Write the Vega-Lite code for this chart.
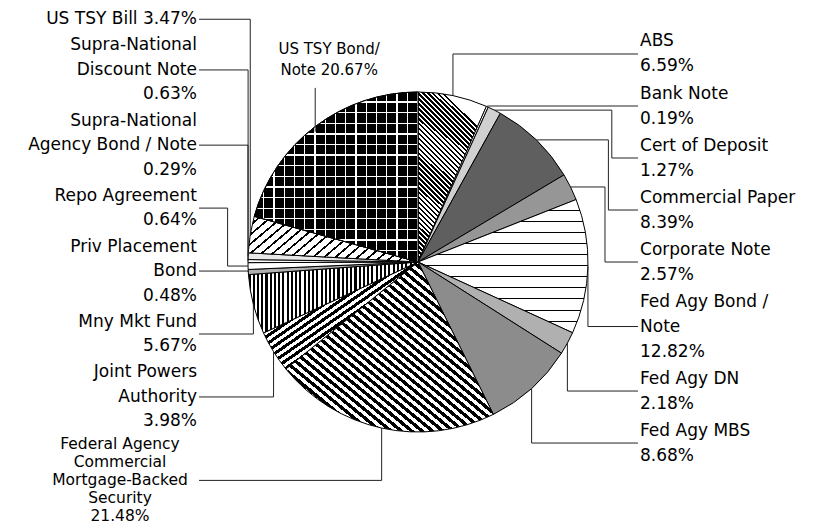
{
  "$schema": "https://vega.github.io/schema/vega-lite/v6.json",
  "width": 814,
  "height": 524,
  "autosize": "none",
  "padding": {"left": 11, "top": 0, "right": 0, "bottom": 3},
  "background": "#ffffff",
  "config": {"view": {"stroke": null}},
  "params": [
    {"name": "s40", "value": {"gradient": "linear", "stops": [
      {"offset":0,"color":"#000"},{"offset":0.0125,"color":"#000"},{"offset":0.0125,"color":"#fff"},{"offset":0.025,"color":"#fff"},
      {"offset":0.025,"color":"#000"},{"offset":0.0375,"color":"#000"},{"offset":0.0375,"color":"#fff"},{"offset":0.05,"color":"#fff"},
      {"offset":0.05,"color":"#000"},{"offset":0.0625,"color":"#000"},{"offset":0.0625,"color":"#fff"},{"offset":0.075,"color":"#fff"},
      {"offset":0.075,"color":"#000"},{"offset":0.0875,"color":"#000"},{"offset":0.0875,"color":"#fff"},{"offset":0.1,"color":"#fff"},
      {"offset":0.1,"color":"#000"},{"offset":0.1125,"color":"#000"},{"offset":0.1125,"color":"#fff"},{"offset":0.125,"color":"#fff"},
      {"offset":0.125,"color":"#000"},{"offset":0.1375,"color":"#000"},{"offset":0.1375,"color":"#fff"},{"offset":0.15,"color":"#fff"},
      {"offset":0.15,"color":"#000"},{"offset":0.1625,"color":"#000"},{"offset":0.1625,"color":"#fff"},{"offset":0.175,"color":"#fff"},
      {"offset":0.175,"color":"#000"},{"offset":0.1875,"color":"#000"},{"offset":0.1875,"color":"#fff"},{"offset":0.2,"color":"#fff"},
      {"offset":0.2,"color":"#000"},{"offset":0.2125,"color":"#000"},{"offset":0.2125,"color":"#fff"},{"offset":0.225,"color":"#fff"},
      {"offset":0.225,"color":"#000"},{"offset":0.2375,"color":"#000"},{"offset":0.2375,"color":"#fff"},{"offset":0.25,"color":"#fff"},
      {"offset":0.25,"color":"#000"},{"offset":0.2625,"color":"#000"},{"offset":0.2625,"color":"#fff"},{"offset":0.275,"color":"#fff"},
      {"offset":0.275,"color":"#000"},{"offset":0.2875,"color":"#000"},{"offset":0.2875,"color":"#fff"},{"offset":0.3,"color":"#fff"},
      {"offset":0.3,"color":"#000"},{"offset":0.3125,"color":"#000"},{"offset":0.3125,"color":"#fff"},{"offset":0.325,"color":"#fff"},
      {"offset":0.325,"color":"#000"},{"offset":0.3375,"color":"#000"},{"offset":0.3375,"color":"#fff"},{"offset":0.35,"color":"#fff"},
      {"offset":0.35,"color":"#000"},{"offset":0.3625,"color":"#000"},{"offset":0.3625,"color":"#fff"},{"offset":0.375,"color":"#fff"},
      {"offset":0.375,"color":"#000"},{"offset":0.3875,"color":"#000"},{"offset":0.3875,"color":"#fff"},{"offset":0.4,"color":"#fff"},
      {"offset":0.4,"color":"#000"},{"offset":0.4125,"color":"#000"},{"offset":0.4125,"color":"#fff"},{"offset":0.425,"color":"#fff"},
      {"offset":0.425,"color":"#000"},{"offset":0.4375,"color":"#000"},{"offset":0.4375,"color":"#fff"},{"offset":0.45,"color":"#fff"},
      {"offset":0.45,"color":"#000"},{"offset":0.4625,"color":"#000"},{"offset":0.4625,"color":"#fff"},{"offset":0.475,"color":"#fff"},
      {"offset":0.475,"color":"#000"},{"offset":0.4875,"color":"#000"},{"offset":0.4875,"color":"#fff"},{"offset":0.5,"color":"#fff"},
      {"offset":0.5,"color":"#000"},{"offset":0.5125,"color":"#000"},{"offset":0.5125,"color":"#fff"},{"offset":0.525,"color":"#fff"},
      {"offset":0.525,"color":"#000"},{"offset":0.5375,"color":"#000"},{"offset":0.5375,"color":"#fff"},{"offset":0.55,"color":"#fff"},
      {"offset":0.55,"color":"#000"},{"offset":0.5625,"color":"#000"},{"offset":0.5625,"color":"#fff"},{"offset":0.575,"color":"#fff"},
      {"offset":0.575,"color":"#000"},{"offset":0.5875,"color":"#000"},{"offset":0.5875,"color":"#fff"},{"offset":0.6,"color":"#fff"},
      {"offset":0.6,"color":"#000"},{"offset":0.6125,"color":"#000"},{"offset":0.6125,"color":"#fff"},{"offset":0.625,"color":"#fff"},
      {"offset":0.625,"color":"#000"},{"offset":0.6375,"color":"#000"},{"offset":0.6375,"color":"#fff"},{"offset":0.65,"color":"#fff"},
      {"offset":0.65,"color":"#000"},{"offset":0.6625,"color":"#000"},{"offset":0.6625,"color":"#fff"},{"offset":0.675,"color":"#fff"},
      {"offset":0.675,"color":"#000"},{"offset":0.6875,"color":"#000"},{"offset":0.6875,"color":"#fff"},{"offset":0.7,"color":"#fff"},
      {"offset":0.7,"color":"#000"},{"offset":0.7125,"color":"#000"},{"offset":0.7125,"color":"#fff"},{"offset":0.725,"color":"#fff"},
      {"offset":0.725,"color":"#000"},{"offset":0.7375,"color":"#000"},{"offset":0.7375,"color":"#fff"},{"offset":0.75,"color":"#fff"},
      {"offset":0.75,"color":"#000"},{"offset":0.7625,"color":"#000"},{"offset":0.7625,"color":"#fff"},{"offset":0.775,"color":"#fff"},
      {"offset":0.775,"color":"#000"},{"offset":0.7875,"color":"#000"},{"offset":0.7875,"color":"#fff"},{"offset":0.8,"color":"#fff"},
      {"offset":0.8,"color":"#000"},{"offset":0.8125,"color":"#000"},{"offset":0.8125,"color":"#fff"},{"offset":0.825,"color":"#fff"},
      {"offset":0.825,"color":"#000"},{"offset":0.8375,"color":"#000"},{"offset":0.8375,"color":"#fff"},{"offset":0.85,"color":"#fff"},
      {"offset":0.85,"color":"#000"},{"offset":0.8625,"color":"#000"},{"offset":0.8625,"color":"#fff"},{"offset":0.875,"color":"#fff"},
      {"offset":0.875,"color":"#000"},{"offset":0.8875,"color":"#000"},{"offset":0.8875,"color":"#fff"},{"offset":0.9,"color":"#fff"},
      {"offset":0.9,"color":"#000"},{"offset":0.9125,"color":"#000"},{"offset":0.9125,"color":"#fff"},{"offset":0.925,"color":"#fff"},
      {"offset":0.925,"color":"#000"},{"offset":0.9375,"color":"#000"},{"offset":0.9375,"color":"#fff"},{"offset":0.95,"color":"#fff"},
      {"offset":0.95,"color":"#000"},{"offset":0.9625,"color":"#000"},{"offset":0.9625,"color":"#fff"},{"offset":0.975,"color":"#fff"},
      {"offset":0.975,"color":"#000"},{"offset":0.9875,"color":"#000"},{"offset":0.9875,"color":"#fff"},{"offset":1,"color":"#fff"}
    ]}}
  ],
  "data": {
    "values": [
      {"cat": "ABS", "label": "ABS\n6.59%", "pct": 6.59},
      {"cat": "Bank Note", "label": "Bank Note\n0.19%", "pct": 0.19},
      {"cat": "Cert of Deposit", "label": "Cert of Deposit\n1.27%", "pct": 1.27},
      {"cat": "Commercial Paper", "label": "Commercial Paper\n8.39%", "pct": 8.39},
      {"cat": "Corporate Note", "label": "Corporate Note\n2.57%", "pct": 2.57},
      {"cat": "Fed Agy Bond / Note", "label": "Fed Agy Bond /\nNote\n12.82%", "pct": 12.82},
      {"cat": "Fed Agy DN", "label": "Fed Agy DN\n2.18%", "pct": 2.18},
      {"cat": "Fed Agy MBS", "label": "Fed Agy MBS\n8.68%", "pct": 8.68},
      {"cat": "Federal Agency Commercial Mortgage-Backed Security", "label": "Federal Agency\nCommercial\nMortgage-Backed\nSecurity\n21.48%", "pct": 21.48},
      {"cat": "Joint Powers Authority", "label": "Joint Powers\nAuthority\n3.98%", "pct": 3.98},
      {"cat": "Mny Mkt Fund", "label": "Mny Mkt Fund\n5.67%", "pct": 5.67},
      {"cat": "Priv Placement Bond", "label": "Priv Placement\nBond\n0.48%", "pct": 0.48},
      {"cat": "Repo Agreement", "label": "Repo Agreement\n0.64%", "pct": 0.64},
      {"cat": "Supra-National Agency Bond / Note", "label": "Supra-National\nAgency Bond / Note\n0.29%", "pct": 0.29},
      {"cat": "Supra-National Discount Note", "label": "Supra-National\nDiscount Note\n0.63%", "pct": 0.63},
      {"cat": "US TSY Bill", "label": "US TSY Bill 3.47%", "pct": 3.47},
      {"cat": "US TSY Bond/Note", "label": "US TSY Bond/\nNote 20.67%", "pct": 20.67}
    ]
  },
  "transform": [
    {"window": [{"op": "row_number", "as": "ord"}]},
    {"window": [{"op": "sum", "field": "pct", "as": "t1"}], "sort": [{"field": "ord"}], "frame": [null, 0]},
    {"calculate": "datum.t1 - datum.pct", "as": "t0"},
    {"calculate": "(datum.t0 + datum.t1) * PI / 100", "as": "mid"},
    {"calculate": "sin(datum.mid)", "as": "ex"},
    {"calculate": "-cos(datum.mid)", "as": "ey"},
    {"calculate": "datum.mid > 5.3 ? 'top' : (datum.mid < PI ? 'right' : 'left')", "as": "side"},
    {"calculate": "length(split(datum.label, '\\n'))", "as": "nl"},
    {"calculate": "datum.side === 'top' ? 0.12353 : (datum.nl >= 5 ? 0.10588 : (datum.side === 'left' ? 0.14412 : 0.14706))", "as": "lh"},
    {"calculate": "datum.nl * datum.lh", "as": "h"},
    {"calculate": "datum.side === 'left' ? -datum.mid : datum.mid", "as": "sk"},
    {"window": [{"op": "row_number", "as": "rk"}, {"op": "sum", "field": "h", "as": "ch"}], "groupby": ["side"], "sort": [{"field": "sk"}], "frame": [null, 0]},
    {"calculate": "datum.side === 'top' ? -1.194 : (datum.side === 'left' ? -1.5 + 0.01 * (datum.rk - 1) : -1.3706 + 0.0118 * (datum.rk - 1)) + datum.ch - datum.h / 2", "as": "ty"},
    {"calculate": "datum.ty - (datum.nl - 1) * datum.lh / 2", "as": "tyt"},
    {"calculate": "datum.side === 'top' ? -1.024 : datum.ty", "as": "lly"},
    {"calculate": "datum.side === 'top' ? datum.ey + 0.03 : datum.ey", "as": "vy0"},
    {"calculate": "(datum.side === 'top' || (datum.ty * datum.ey > 0 && abs(datum.ty) >= abs(datum.ey) - 0.03)) ? datum.ex : (datum.side === 'right' ? 1 : -1) * (1.18 - 0.02 * (datum.rk - 1))", "as": "elx"},
    {"calculate": "datum.side === 'right' ? 1.294 : (datum.side === 'left' ? -1.288 : datum.ex)", "as": "lxe"},
    {"calculate": "datum.side === 'right' ? 1.306 : (datum.side === 'left' ? (datum.nl >= 5 ? -1.753 : -1.3) : datum.ex + 0.082)", "as": "tx"}
  ],
  "layer": [
    {
      "mark": {"type": "arc", "outerRadius": 170, "stroke": "#000000", "strokeWidth": 1},
      "encoding": {
        "theta": {"field": "t0", "type": "quantitative", "scale": {"domain": [0, 100], "range": [0, 6.283185307179586]}},
        "theta2": {"field": "t1"},
        "fill": {
          "condition": [
            {"test": "datum.cat === 'Federal Agency Commercial Mortgage-Backed Security'", "value": {"expr": "merge(s40, {x1: 0, y1: 1, x2: 1, y2: 0})"}},
            {"test": "datum.cat === 'ABS'", "value": {"expr": "merge(s40, {x1: 0, y1: 1, x2: 0.4, y2: 0})"}},
            {"test": "datum.cat === 'Mny Mkt Fund'", "value": {"expr": "merge(s40, {x1: 0, y1: 0, x2: 1, y2: 0})"}},
            {"test": "datum.cat === 'Joint Powers Authority'", "value": {"expr": "merge(s40, {x1: 0, y1: 0, x2: 1.4, y2: 1.4})"}},
            {"test": "datum.cat === 'US TSY Bill'", "value": {"gradient": "linear", "x1": 0, "y1": 0, "x2": 1.197, "y2": 0.383, "stops": [
              {"offset":0,"color":"#000"},{"offset":0.012,"color":"#000"},{"offset":0.012,"color":"#fff"},{"offset":0.05,"color":"#fff"},
              {"offset":0.05,"color":"#000"},{"offset":0.062,"color":"#000"},{"offset":0.062,"color":"#fff"},{"offset":0.1,"color":"#fff"},
              {"offset":0.1,"color":"#000"},{"offset":0.112,"color":"#000"},{"offset":0.112,"color":"#fff"},{"offset":0.15,"color":"#fff"},
              {"offset":0.15,"color":"#000"},{"offset":0.162,"color":"#000"},{"offset":0.162,"color":"#fff"},{"offset":0.2,"color":"#fff"},
              {"offset":0.2,"color":"#000"},{"offset":0.212,"color":"#000"},{"offset":0.212,"color":"#fff"},{"offset":0.25,"color":"#fff"},
              {"offset":0.25,"color":"#000"},{"offset":0.262,"color":"#000"},{"offset":0.262,"color":"#fff"},{"offset":0.3,"color":"#fff"},
              {"offset":0.3,"color":"#000"},{"offset":0.312,"color":"#000"},{"offset":0.312,"color":"#fff"},{"offset":0.35,"color":"#fff"},
              {"offset":0.35,"color":"#000"},{"offset":0.362,"color":"#000"},{"offset":0.362,"color":"#fff"},{"offset":0.4,"color":"#fff"},
              {"offset":0.4,"color":"#000"},{"offset":0.412,"color":"#000"},{"offset":0.412,"color":"#fff"},{"offset":0.45,"color":"#fff"},
              {"offset":0.45,"color":"#000"},{"offset":0.462,"color":"#000"},{"offset":0.462,"color":"#fff"},{"offset":0.5,"color":"#fff"},
              {"offset":0.5,"color":"#000"},{"offset":0.512,"color":"#000"},{"offset":0.512,"color":"#fff"},{"offset":0.55,"color":"#fff"},
              {"offset":0.55,"color":"#000"},{"offset":0.562,"color":"#000"},{"offset":0.562,"color":"#fff"},{"offset":0.6,"color":"#fff"},
              {"offset":0.6,"color":"#000"},{"offset":0.612,"color":"#000"},{"offset":0.612,"color":"#fff"},{"offset":0.65,"color":"#fff"},
              {"offset":0.65,"color":"#000"},{"offset":0.662,"color":"#000"},{"offset":0.662,"color":"#fff"},{"offset":0.7,"color":"#fff"},
              {"offset":0.7,"color":"#000"},{"offset":0.712,"color":"#000"},{"offset":0.712,"color":"#fff"},{"offset":0.75,"color":"#fff"},
              {"offset":0.75,"color":"#000"},{"offset":0.762,"color":"#000"},{"offset":0.762,"color":"#fff"},{"offset":0.8,"color":"#fff"},
              {"offset":0.8,"color":"#000"},{"offset":0.812,"color":"#000"},{"offset":0.812,"color":"#fff"},{"offset":0.85,"color":"#fff"},
              {"offset":0.85,"color":"#000"},{"offset":0.862,"color":"#000"},{"offset":0.862,"color":"#fff"},{"offset":0.9,"color":"#fff"},
              {"offset":0.9,"color":"#000"},{"offset":0.912,"color":"#000"},{"offset":0.912,"color":"#fff"},{"offset":0.95,"color":"#fff"},
              {"offset":0.95,"color":"#000"},{"offset":0.962,"color":"#000"},{"offset":0.962,"color":"#fff"},{"offset":1,"color":"#fff"}
            ]}},
            {"test": "datum.cat === 'US TSY Bond/Note'", "value": {"gradient": "linear", "x1": 0, "y1": 0, "x2": 0, "y2": 1, "stops": [
              {"offset":0,"color":"#000"},{"offset":0.055,"color":"#000"},{"offset":0.055,"color":"#fff"},{"offset":0.0625,"color":"#fff"},
              {"offset":0.0625,"color":"#000"},{"offset":0.1175,"color":"#000"},{"offset":0.1175,"color":"#fff"},{"offset":0.125,"color":"#fff"},
              {"offset":0.125,"color":"#000"},{"offset":0.18,"color":"#000"},{"offset":0.18,"color":"#fff"},{"offset":0.1875,"color":"#fff"},
              {"offset":0.1875,"color":"#000"},{"offset":0.2425,"color":"#000"},{"offset":0.2425,"color":"#fff"},{"offset":0.25,"color":"#fff"},
              {"offset":0.25,"color":"#000"},{"offset":0.305,"color":"#000"},{"offset":0.305,"color":"#fff"},{"offset":0.3125,"color":"#fff"},
              {"offset":0.3125,"color":"#000"},{"offset":0.3675,"color":"#000"},{"offset":0.3675,"color":"#fff"},{"offset":0.375,"color":"#fff"},
              {"offset":0.375,"color":"#000"},{"offset":0.43,"color":"#000"},{"offset":0.43,"color":"#fff"},{"offset":0.4375,"color":"#fff"},
              {"offset":0.4375,"color":"#000"},{"offset":0.4925,"color":"#000"},{"offset":0.4925,"color":"#fff"},{"offset":0.5,"color":"#fff"},
              {"offset":0.5,"color":"#000"},{"offset":0.555,"color":"#000"},{"offset":0.555,"color":"#fff"},{"offset":0.5625,"color":"#fff"},
              {"offset":0.5625,"color":"#000"},{"offset":0.6175,"color":"#000"},{"offset":0.6175,"color":"#fff"},{"offset":0.625,"color":"#fff"},
              {"offset":0.625,"color":"#000"},{"offset":0.68,"color":"#000"},{"offset":0.68,"color":"#fff"},{"offset":0.6875,"color":"#fff"},
              {"offset":0.6875,"color":"#000"},{"offset":0.7425,"color":"#000"},{"offset":0.7425,"color":"#fff"},{"offset":0.75,"color":"#fff"},
              {"offset":0.75,"color":"#000"},{"offset":0.805,"color":"#000"},{"offset":0.805,"color":"#fff"},{"offset":0.8125,"color":"#fff"},
              {"offset":0.8125,"color":"#000"},{"offset":0.8675,"color":"#000"},{"offset":0.8675,"color":"#fff"},{"offset":0.875,"color":"#fff"},
              {"offset":0.875,"color":"#000"},{"offset":0.93,"color":"#000"},{"offset":0.93,"color":"#fff"},{"offset":0.9375,"color":"#fff"},
              {"offset":0.9375,"color":"#000"},{"offset":0.9925,"color":"#000"},{"offset":0.9925,"color":"#fff"},{"offset":1,"color":"#fff"}
            ]}},
            {"test": "datum.cat === 'Fed Agy Bond / Note'", "value": {"gradient": "linear", "x1": 0, "y1": 0, "x2": 0, "y2": 1, "stops": [
              {"offset":0,"color":"#fff"},{"offset":0.0758,"color":"#fff"},{"offset":0.0758,"color":"#000"},{"offset":0.0833,"color":"#000"},
              {"offset":0.0833,"color":"#fff"},{"offset":0.1592,"color":"#fff"},{"offset":0.1592,"color":"#000"},{"offset":0.1667,"color":"#000"},
              {"offset":0.1667,"color":"#fff"},{"offset":0.2425,"color":"#fff"},{"offset":0.2425,"color":"#000"},{"offset":0.25,"color":"#000"},
              {"offset":0.25,"color":"#fff"},{"offset":0.3258,"color":"#fff"},{"offset":0.3258,"color":"#000"},{"offset":0.3333,"color":"#000"},
              {"offset":0.3333,"color":"#fff"},{"offset":0.4092,"color":"#fff"},{"offset":0.4092,"color":"#000"},{"offset":0.4167,"color":"#000"},
              {"offset":0.4167,"color":"#fff"},{"offset":0.4925,"color":"#fff"},{"offset":0.4925,"color":"#000"},{"offset":0.5,"color":"#000"},
              {"offset":0.5,"color":"#fff"},{"offset":0.5758,"color":"#fff"},{"offset":0.5758,"color":"#000"},{"offset":0.5833,"color":"#000"},
              {"offset":0.5833,"color":"#fff"},{"offset":0.6592,"color":"#fff"},{"offset":0.6592,"color":"#000"},{"offset":0.6667,"color":"#000"},
              {"offset":0.6667,"color":"#fff"},{"offset":0.7425,"color":"#fff"},{"offset":0.7425,"color":"#000"},{"offset":0.75,"color":"#000"},
              {"offset":0.75,"color":"#fff"},{"offset":0.8258,"color":"#fff"},{"offset":0.8258,"color":"#000"},{"offset":0.8333,"color":"#000"},
              {"offset":0.8333,"color":"#fff"},{"offset":0.9092,"color":"#fff"},{"offset":0.9092,"color":"#000"},{"offset":0.9167,"color":"#000"},
              {"offset":0.9167,"color":"#fff"},{"offset":0.9925,"color":"#fff"},{"offset":0.9925,"color":"#000"},{"offset":1,"color":"#000"}
            ]}},
            {"test": "datum.cat === 'Bank Note'", "value": "#ffffff"},
            {"test": "datum.cat === 'Cert of Deposit'", "value": "#d0d0d0"},
            {"test": "datum.cat === 'Commercial Paper'", "value": "#5f5f5f"},
            {"test": "datum.cat === 'Corporate Note'", "value": "#969696"},
            {"test": "datum.cat === 'Fed Agy DN'", "value": "#b0b0b0"},
            {"test": "datum.cat === 'Fed Agy MBS'", "value": "#8c8c8c"},
            {"test": "datum.cat === 'Priv Placement Bond'", "value": "#b0b0b0"},
            {"test": "datum.cat === 'Supra-National Discount Note'", "value": "#e8e8e8"}
          ],
          "value": "#ffffff"
        }
      }
    },
    {
      "transform": [{"filter": "datum.cat === 'US TSY Bond/Note'"}],
      "mark": {"type": "arc", "outerRadius": 170, "stroke": "#000000", "strokeWidth": 1, "fill": {"gradient": "linear", "x1": 0, "y1": 0, "x2": 1, "y2": 0, "stops": [
        {"offset":0,"color":"rgba(255,255,255,0)"},{"offset":0.055,"color":"rgba(255,255,255,0)"},{"offset":0.055,"color":"#fff"},{"offset":0.0625,"color":"#fff"},
        {"offset":0.0625,"color":"rgba(255,255,255,0)"},{"offset":0.1175,"color":"rgba(255,255,255,0)"},{"offset":0.1175,"color":"#fff"},{"offset":0.125,"color":"#fff"},
        {"offset":0.125,"color":"rgba(255,255,255,0)"},{"offset":0.18,"color":"rgba(255,255,255,0)"},{"offset":0.18,"color":"#fff"},{"offset":0.1875,"color":"#fff"},
        {"offset":0.1875,"color":"rgba(255,255,255,0)"},{"offset":0.2425,"color":"rgba(255,255,255,0)"},{"offset":0.2425,"color":"#fff"},{"offset":0.25,"color":"#fff"},
        {"offset":0.25,"color":"rgba(255,255,255,0)"},{"offset":0.305,"color":"rgba(255,255,255,0)"},{"offset":0.305,"color":"#fff"},{"offset":0.3125,"color":"#fff"},
        {"offset":0.3125,"color":"rgba(255,255,255,0)"},{"offset":0.3675,"color":"rgba(255,255,255,0)"},{"offset":0.3675,"color":"#fff"},{"offset":0.375,"color":"#fff"},
        {"offset":0.375,"color":"rgba(255,255,255,0)"},{"offset":0.43,"color":"rgba(255,255,255,0)"},{"offset":0.43,"color":"#fff"},{"offset":0.4375,"color":"#fff"},
        {"offset":0.4375,"color":"rgba(255,255,255,0)"},{"offset":0.4925,"color":"rgba(255,255,255,0)"},{"offset":0.4925,"color":"#fff"},{"offset":0.5,"color":"#fff"},
        {"offset":0.5,"color":"rgba(255,255,255,0)"},{"offset":0.555,"color":"rgba(255,255,255,0)"},{"offset":0.555,"color":"#fff"},{"offset":0.5625,"color":"#fff"},
        {"offset":0.5625,"color":"rgba(255,255,255,0)"},{"offset":0.6175,"color":"rgba(255,255,255,0)"},{"offset":0.6175,"color":"#fff"},{"offset":0.625,"color":"#fff"},
        {"offset":0.625,"color":"rgba(255,255,255,0)"},{"offset":0.68,"color":"rgba(255,255,255,0)"},{"offset":0.68,"color":"#fff"},{"offset":0.6875,"color":"#fff"},
        {"offset":0.6875,"color":"rgba(255,255,255,0)"},{"offset":0.7425,"color":"rgba(255,255,255,0)"},{"offset":0.7425,"color":"#fff"},{"offset":0.75,"color":"#fff"},
        {"offset":0.75,"color":"rgba(255,255,255,0)"},{"offset":0.805,"color":"rgba(255,255,255,0)"},{"offset":0.805,"color":"#fff"},{"offset":0.8125,"color":"#fff"},
        {"offset":0.8125,"color":"rgba(255,255,255,0)"},{"offset":0.8675,"color":"rgba(255,255,255,0)"},{"offset":0.8675,"color":"#fff"},{"offset":0.875,"color":"#fff"},
        {"offset":0.875,"color":"rgba(255,255,255,0)"},{"offset":0.93,"color":"rgba(255,255,255,0)"},{"offset":0.93,"color":"#fff"},{"offset":0.9375,"color":"#fff"},
        {"offset":0.9375,"color":"rgba(255,255,255,0)"},{"offset":0.9925,"color":"rgba(255,255,255,0)"},{"offset":0.9925,"color":"#fff"},{"offset":1,"color":"#fff"}
      ]}},
      "encoding": {
        "theta": {"field": "t0", "type": "quantitative", "scale": {"domain": [0, 100], "range": [0, 6.283185307179586]}},
        "theta2": {"field": "t1"}
      }
    },
    {
      "mark": {"type": "rule", "color": "#222222", "strokeWidth": 1},
      "encoding": {
        "x": {"field": "ex", "type": "quantitative", "scale": {"domain": [-2.39412, 2.39412], "nice": false, "zero": false}, "axis": null},
        "x2": {"field": "elx"},
        "y": {"field": "ey", "type": "quantitative", "scale": {"domain": [-1.54118, 1.54118], "reverse": true, "nice": false, "zero": false}, "axis": null}
      }
    },
    {
      "mark": {"type": "rule", "color": "#222222", "strokeWidth": 1},
      "encoding": {
        "x": {"field": "elx", "type": "quantitative", "scale": {"domain": [-2.39412, 2.39412], "nice": false, "zero": false}, "axis": null},
        "y": {"field": "vy0", "type": "quantitative", "scale": {"domain": [-1.54118, 1.54118], "reverse": true, "nice": false, "zero": false}, "axis": null},
        "y2": {"field": "lly"}
      }
    },
    {
      "mark": {"type": "rule", "color": "#222222", "strokeWidth": 1},
      "encoding": {
        "x": {"field": "elx", "type": "quantitative", "scale": {"domain": [-2.39412, 2.39412], "nice": false, "zero": false}, "axis": null},
        "x2": {"field": "lxe"},
        "y": {"field": "lly", "type": "quantitative", "scale": {"domain": [-1.54118, 1.54118], "reverse": true, "nice": false, "zero": false}, "axis": null}
      }
    },
    {
      "transform": [{"filter": "datum.side === 'right'"}],
      "mark": {"type": "text", "font": "DejaVu Sans", "fontSize": 17, "lineHeight": 25, "lineBreak": "\n", "align": "left", "baseline": "middle", "color": "#000000"},
      "encoding": {
        "x": {"field": "tx", "type": "quantitative", "scale": {"domain": [-2.39412, 2.39412], "nice": false, "zero": false}, "axis": null},
        "y": {"field": "tyt", "type": "quantitative", "scale": {"domain": [-1.54118, 1.54118], "reverse": true, "nice": false, "zero": false}, "axis": null},
        "text": {"field": "label"}
      }
    },
    {
      "transform": [{"filter": "datum.side === 'left' && datum.nl < 5"}],
      "mark": {"type": "text", "font": "DejaVu Sans", "fontSize": 17, "lineHeight": 24.5, "lineBreak": "\n", "align": "right", "baseline": "middle", "color": "#000000"},
      "encoding": {
        "x": {"field": "tx", "type": "quantitative", "scale": {"domain": [-2.39412, 2.39412], "nice": false, "zero": false}, "axis": null},
        "y": {"field": "tyt", "type": "quantitative", "scale": {"domain": [-1.54118, 1.54118], "reverse": true, "nice": false, "zero": false}, "axis": null},
        "text": {"field": "label"}
      }
    },
    {
      "transform": [{"filter": "datum.nl >= 5"}],
      "mark": {"type": "text", "font": "DejaVu Sans", "fontSize": 15.5, "lineHeight": 18, "lineBreak": "\n", "align": "center", "baseline": "middle", "color": "#000000"},
      "encoding": {
        "x": {"field": "tx", "type": "quantitative", "scale": {"domain": [-2.39412, 2.39412], "nice": false, "zero": false}, "axis": null},
        "y": {"field": "tyt", "type": "quantitative", "scale": {"domain": [-1.54118, 1.54118], "reverse": true, "nice": false, "zero": false}, "axis": null},
        "text": {"field": "label"}
      }
    },
    {
      "transform": [{"filter": "datum.side === 'top'"}],
      "mark": {"type": "text", "font": "DejaVu Sans", "fontSize": 15, "lineHeight": 21, "lineBreak": "\n", "align": "center", "baseline": "middle", "color": "#000000"},
      "encoding": {
        "x": {"field": "tx", "type": "quantitative", "scale": {"domain": [-2.39412, 2.39412], "nice": false, "zero": false}, "axis": null},
        "y": {"field": "tyt", "type": "quantitative", "scale": {"domain": [-1.54118, 1.54118], "reverse": true, "nice": false, "zero": false}, "axis": null},
        "text": {"field": "label"}
      }
    }
  ]
}
